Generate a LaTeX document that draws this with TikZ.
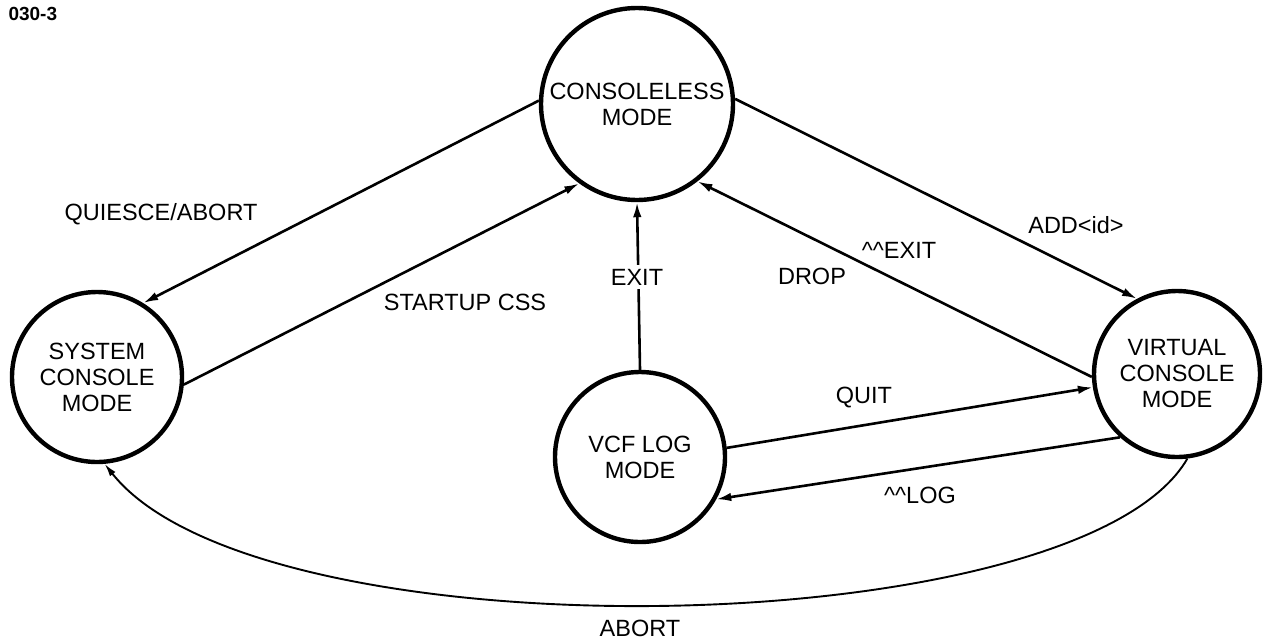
\documentclass[tikz,border=0pt]{standalone}
\usepackage{fontspec}
\setmainfont{Liberation Sans}
\usetikzlibrary{arrows.meta}
\begin{document}
\begin{tikzpicture}[x=1pt,y=-1pt,
  state/.style={circle, draw, line width=4.4pt, inner sep=0pt, align=center,
    font=\fontsize{23.5}{26}\selectfont},
  conn/.style={line width=2.6pt, -{Latex[length=15pt,width=8.5pt]}},
  thinconn/.style={line width=1.9pt, -{Latex[length=13pt,width=7pt]}},
  lbl/.style={font=\fontsize{23.5}{26}\selectfont, inner sep=1pt}]
\useasboundingbox (0,0) rectangle (1265,643);
\node[font=\bfseries\fontsize{19}{22}\selectfont, anchor=west] (tag) at (5,14) {030-3};
\node[state, minimum size=192pt] (cl) at (637,104) {CONSOLELESS\\MODE};
\node[state, minimum size=170pt] (sc) at (97,377) {SYSTEM\\CONSOLE\\MODE};
\node[state, minimum size=170pt] (vl) at (640,457) {VCF LOG\\MODE};
\node[state, minimum size=166pt] (vc) at (1177,374) {VIRTUAL\\CONSOLE\\MODE};
% QUIESCE/ABORT
\draw[conn] (cl.178) -- (sc.58);
\node[lbl] (lq) at (161,214) {QUIESCE/ABORT};
% STARTUP CSS
\draw[conn] (sc.-5) -- (cl.234);
\node[lbl] (ls) at (465,302) {STARTUP CSS};
% EXIT
\draw[conn] (vl.90) -- (cl.270);
\node[lbl, fill=white, inner sep=4pt] (le) at (637,277) {EXIT};
% DROP / ^^EXIT
\draw[conn] (vc.182.7) -- (cl.308.7);
\node[lbl] (ld) at (812,276) {DROP};
\node[lbl] (lx) at (899,250) {\textasciicircum\textasciicircum EXIT};
% ADD<id>
\draw[conn] (cl.3.5) -- (vc.118.9);
\node[lbl] (la) at (1076,225) {ADD<id>};
% QUIT
\draw[conn] (vl.6.7) -- (vc.189.7);
\node[lbl] (lqu) at (864,398) {QUIT};
% ^^LOG
\draw[conn] (vc.228.9) -- (vl.-29.4);
\node[lbl] (ll) at (920,495) {\textasciicircum\textasciicircum LOG};
% ABORT
\draw[thinconn] (vc.277.8) .. controls (1080,645) and (260,660) .. (sc.275.6);
\node[lbl] (lab) at (640,628) {ABORT};
\end{tikzpicture}
\end{document}
